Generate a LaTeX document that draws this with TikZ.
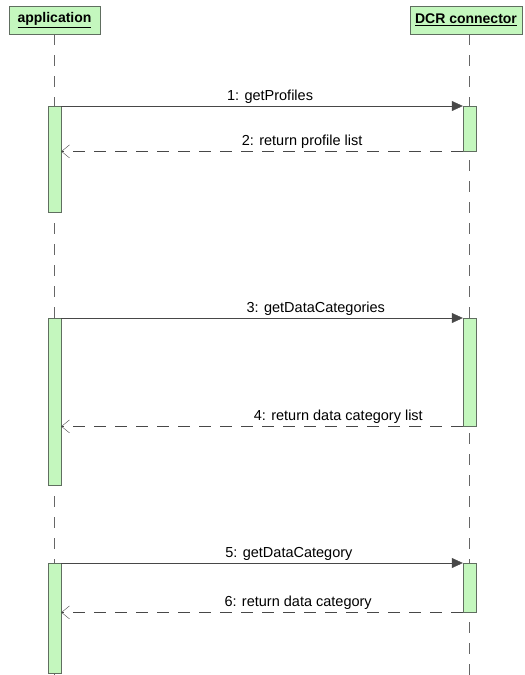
\documentclass[tikz,border=0pt]{standalone}
\usepackage{fontspec}
\setmainfont{Liberation Sans}
\usetikzlibrary{arrows.meta, positioning}

\definecolor{barfill}{RGB}{196,247,190}
\definecolor{barline}{RGB}{96,110,96}
\definecolor{msgline}{RGB}{72,72,72}

\begin{document}
\begin{tikzpicture}[x=1pt,y=-1pt,
  head/.style={draw=barline, fill=barfill, minimum width=#1, minimum height=28pt, inner sep=0pt,
    font=\fontsize{14}{16}\selectfont\bfseries},
  actbar/.style={draw=barline, fill=barfill, minimum width=13pt, inner sep=0pt, anchor=north},
  lifeline/.style={draw=gray!80!black, dash pattern=on 11pt off 10pt},
  call/.style={draw=msgline, -{Triangle[length=11pt,width=10pt]}},
  reply/.style={draw=msgline, dash pattern=on 12pt off 9pt, -{Straight Barb[length=8pt,width=13pt]}},
  msg/.style={font=\fontsize{14.5}{16}\selectfont, anchor=base, yshift=6pt, inner sep=0pt}]

\useasboundingbox (0,0) rectangle (525,675);

% --- Lifeline heads ---
\node[head=91pt] (app) at (54.5,20) {\underline{application}};
\node[head=112pt] (dcr) at (466,20) {\underline{DCR connector}};

% Lifelines, down to the bottom edge
\coordinate (appx) at (54.5,675);
\coordinate (dcrx) at (469.5,675);
\draw[lifeline] (app.south) -- (appx);
\draw[lifeline] (dcr.south -| dcrx) -- (dcrx);

% --- Calls and replies ---
% number / top of bars / left bar height / right bar height / call / label pos / reply / label pos
\foreach \n/\ytop/\lh/\rh/\call/\cpos/\back/\bpos in {
  1/106/106/45/{1: getProfiles}/0.52/{2: return profile list}/0.40,
  3/318/167/108/{3: getDataCategories}/0.634/{4: return data category list}/0.31,
  5/563/110/49/{5: getDataCategory}/0.567/{6: return data category}/0.41}
{
    % activation bars
    \node[actbar, minimum height=\lh pt] (L\n) at (54.5,\ytop) {};
    \node[actbar, minimum height=\rh pt] (R\n) at (469.5,\ytop) {};

    % call and its reply
    \draw[call] (L\n.north east) -- node[msg, pos=\cpos] {\call} (R\n.north west);
    \draw[reply] (R\n.south west) -- node[msg, pos=\bpos] {\back} (R\n.south west -| L\n.east);
}

\end{tikzpicture}
\end{document}
